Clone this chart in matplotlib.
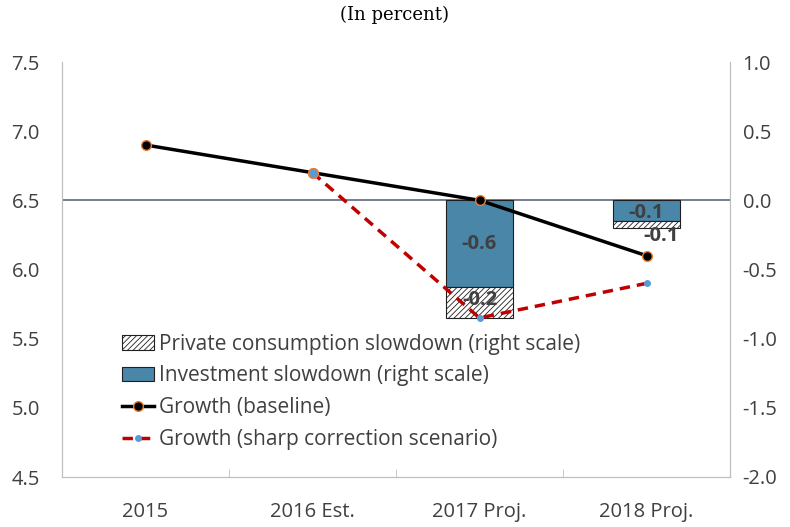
import matplotlib
matplotlib.use("Agg")
import matplotlib.pyplot as plt
import numpy as np

plt.rcParams['font.family'] = ['Open Sans', 'DejaVu Sans']
plt.rcParams['hatch.linewidth'] = 0.6

categories = ["2015", "2016 Est.", "2017 Proj.", "2018 Proj."]
growth_baseline = [6.9, 6.7, 6.5, 6.1]
growth_sharp = [np.nan, 6.7, 5.65, 5.9]
investment_slowdown = [0.0, 0.0, -0.63, -0.15]
consumption_slowdown = [0.0, 0.0, -0.22, -0.05]
left_ticks = [4.5, 5.0, 5.5, 6.0, 6.5, 7.0, 7.5]
right_ticks = [-2.0, -1.5, -1.0, -0.5, 0.0, 0.5, 1.0]

fig = plt.figure(figsize=(7.9, 5.27), dpi=100)
ax = fig.add_axes([62/790, 1-477/527, (730-62)/790, (477-62)/527])
ax2 = ax.twinx()

x = np.arange(len(categories))
tick_color = '#404040'
spine_color = '#BFBFBF'
fs = 14.5

# bars on right axis
inv = np.array(investment_slowdown)
con = np.array(consumption_slowdown)
mask = inv != 0
w = 0.4
b_inv = ax2.bar(x[mask], inv[mask], width=w, color='#4A86A8', edgecolor='#1F1F1F',
                linewidth=0.8, label='Investment slowdown (right scale)', zorder=2)
b_con = ax2.bar(x[mask], con[mask], bottom=inv[mask], width=w, color='white',
                edgecolor='#1F1F1F', hatch='//////', linewidth=0.8,
                label='Private consumption slowdown (right scale)', zorder=2)
for xi, v in zip(x[mask], inv[mask]):
    ax2.text(xi, v/2 if abs(v) > 0.3 else v/2 - 0.02, f"{v:.1f}", ha='center', va='center',
             fontsize=14.5, fontweight='bold', color='#404040', zorder=5)
for xi, b, v in zip(x[mask], inv[mask], con[mask]):
    if abs(v) > 0.1:
        y = b + v/2 + 0.02
        ax2.text(xi, y, f"{v:.1f}", ha='center', va='center',
                 fontsize=14.5, fontweight='bold', color='#404040', zorder=5)
    else:
        ax2.text(xi + 0.09, b + v - 0.06, f"{v:.1f}", ha='center', va='center',
                 fontsize=14.5, fontweight='bold', color='#404040', zorder=5)
ax2.axhline(0, color='#5A6A80', linewidth=1.2, zorder=1)

def to_right(v):
    return np.array(v) - 6.5

l1, = ax2.plot(x, to_right(growth_baseline), color='black', linewidth=2.5, marker='o',
               markersize=7, markerfacecolor='black', markeredgecolor='#ED7D31',
               markeredgewidth=1.0, label='Growth (baseline)', zorder=6)
l2, = ax2.plot(x, to_right(growth_sharp), color='#C00000', linewidth=2.5, linestyle=(0, (3, 2)),
               marker='o', markersize=4, markerfacecolor='#5B9BD5', markeredgecolor='#5B9BD5',
               label='Growth (sharp correction scenario)', zorder=7)
ax2.plot([1], [to_right(growth_sharp)[1]], marker='o', markersize=7, markerfacecolor='#5B9BD5',
         markeredgecolor='#ED7D31', markeredgewidth=1.0, linestyle='none', zorder=8)

ax.set_xlim(-0.5, 3.5)
ax.set_ylim(4.5, 7.5)
ax2.set_ylim(-2.0, 1.0)
ax.set_yticks(left_ticks)
ax.set_yticklabels([f"{t:.1f}" for t in left_ticks])
ax2.set_yticks(right_ticks)
ax2.set_yticklabels([f"{t:.1f}" for t in right_ticks])
ax.set_xticks(x)
ax.set_xticklabels(categories)
ax.set_xticks([0.5, 1.5, 2.5], minor=True)

ax.tick_params(axis='x', which='major', length=0, pad=18, labelsize=fs, labelcolor=tick_color)
ax.tick_params(axis='x', which='minor', length=6, direction='in', color=spine_color)
ax.tick_params(axis='y', length=0, pad=16, labelsize=fs, labelcolor=tick_color)
ax2.tick_params(axis='y', length=0, pad=9, labelsize=fs, labelcolor=tick_color)
for a in (ax, ax2):
    for s in a.spines.values():
        s.set_color(spine_color)
    a.spines['top'].set_visible(False)
ax.set_zorder(0)

fig.text(0.5, 1-15/527, "(In percent)", ha='center', va='center', fontsize=13,
         family='DejaVu Serif', color='black')

handles = [b_con, b_inv, l1, l2]
leg = ax2.legend(handles=handles, loc='lower left', bbox_to_anchor=(0.09, 0.065), frameon=False,
                 fontsize=15, labelcolor='#404040', handlelength=1.55, handletextpad=0.2,
                 labelspacing=0.52, borderaxespad=0, borderpad=0)

fig.savefig("out.png", dpi=100)
